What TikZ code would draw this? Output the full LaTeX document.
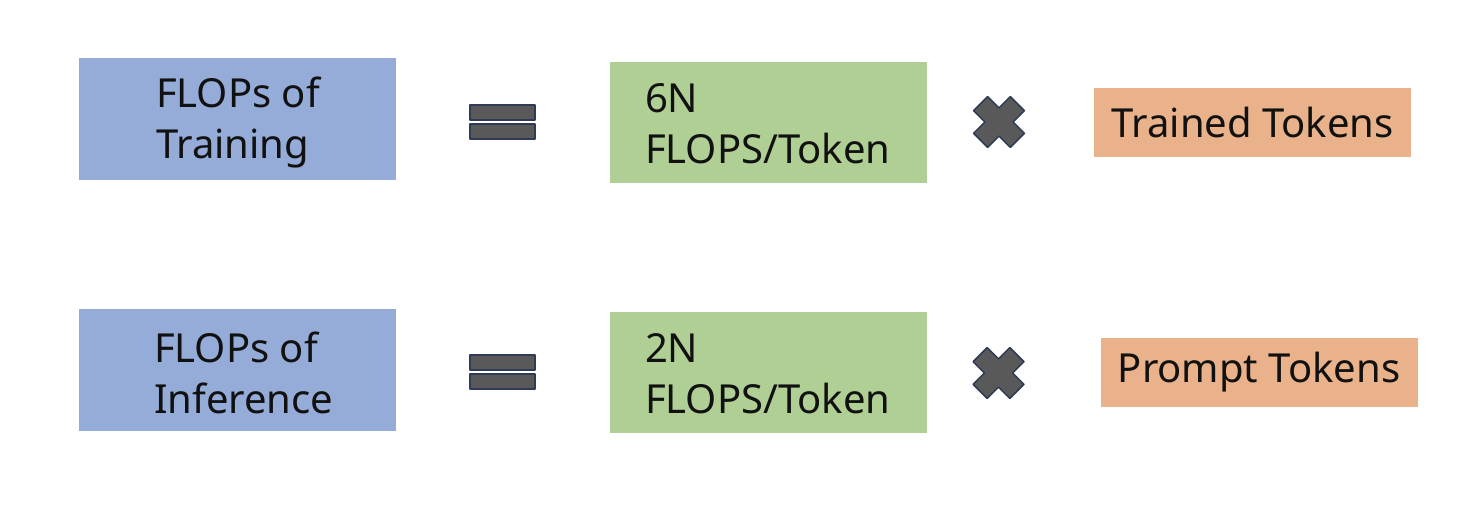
\documentclass[tikz,border=0pt]{standalone}
\usepackage{fontspec}
\setmainfont{Noto Sans}
\definecolor{bluefill}{HTML}{95ACD8}
\definecolor{greenfill}{HTML}{B0CF95}
\definecolor{orangefill}{HTML}{EAB28A}
\definecolor{symfill}{HTML}{595959}
\definecolor{symline}{HTML}{2F3A56}
\definecolor{txtcol}{HTML}{111111}
\tikzset{
  box/.style={rectangle, draw=none, minimum width=317pt, inner sep=0pt},
  bluebox/.style={box, fill=bluefill, minimum height=122pt},
  greenbox/.style={box, fill=greenfill, minimum height=121pt},
  orangebox/.style={box, fill=orangefill, minimum height=69pt},
  txt/.style={inner sep=0pt, align=left, text=txtcol, font=\fontsize{40}{51}\selectfont},
  sym/.style={fill=symfill, draw=symline, line width=1.5pt, line join=round},
}
\begin{document}
\begin{tikzpicture}[x=1pt, y=-1pt]
\useasboundingbox (0,0) rectangle (1482,504);
% row 1
\node[bluebox] (b1) at (237.5,119) {};
\node[txt, anchor=west] (b1t) at ([xshift=77pt, yshift=-3pt]b1.west) {FLOPs of\\Training};
\node[greenbox] (g1) at (768.5,122.5) {};
\node[txt, anchor=west] (g1t) at ([xshift=35pt, yshift=-1pt]g1.west) {6N\\FLOPS/Token};
\node[orangebox] (o1) at (1252.5,122.5) {};
\node[txt] (o1t) at (o1.center) {Trained Tokens};
\draw[sym] (470,105) rectangle (535,120);
\draw[sym] (470,124) rectangle (535,139);
\begin{scope}[shift={(999,122)}, rotate=45]
\draw[sym] (26,10) -- (10,10) -- (10,26) -- (-10,26) -- (-10,10) -- (-26,10) -- (-26,-10) -- (-10,-10) -- (-10,-26) -- (10,-26) -- (10,-10) -- (26,-10) -- cycle;
\end{scope}
% row 2
\node[bluebox] (b2) at (237.5,370) {};
\node[txt, anchor=west] (b2t) at ([xshift=75pt, yshift=-3pt]b2.west) {FLOPs of\\Inference};
\node[greenbox] (g2) at (768.5,372.5) {};
\node[txt, anchor=west] (g2t) at ([xshift=35pt, yshift=-1pt]g2.west) {2N\\FLOPS/Token};
\node[orangebox] (o2) at (1259,372.5) {};
\node[txt] (o2t) at (o2.center) {Prompt Tokens};
\draw[sym] (470,355) rectangle (535,370);
\draw[sym] (470,374) rectangle (535,389);
\begin{scope}[shift={(998.5,373)}, rotate=45]
\draw[sym] (26,10) -- (10,10) -- (10,26) -- (-10,26) -- (-10,10) -- (-26,10) -- (-26,-10) -- (-10,-10) -- (-10,-26) -- (10,-26) -- (10,-10) -- (26,-10) -- cycle;
\end{scope}
\end{tikzpicture}
\end{document}
